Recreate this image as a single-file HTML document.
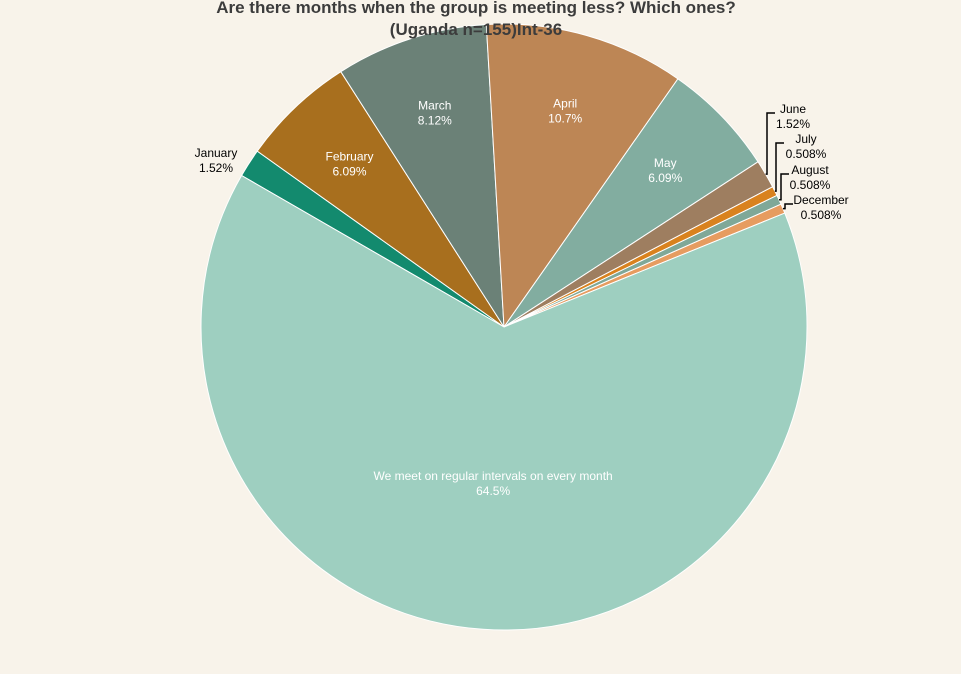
<!DOCTYPE html>
<html><head><meta charset="utf-8">
<style>
html,body{margin:0;padding:0;background:#f8f3ea;}
svg{display:block;font-family:"Liberation Sans","DejaVu Sans",sans-serif;}
</style></head>
<body>
<svg id="chart" width="961" height="674" viewBox="0 0 961 674">
<rect width="961" height="674" fill="#f8f3ea"/>
<g id="slices"></g>
<g id="labels"></g>
<text x="476" y="13" text-anchor="middle" font-size="17" font-weight="bold" fill="#3c3c3c">Are there months when the group is meeting less? Which ones?</text>
<text x="476" y="35" text-anchor="middle" font-size="17" font-weight="bold" fill="#3c3c3c">(Uganda n=155)Int-36</text>
</svg>
<script>
const categories=["January","February","March","April","May","June","July","August","December","We meet on regular intervals on every month"];
const counts=[3,12,16,21,12,3,1,1,1,127];
const pctLabels=["1.52%","6.09%","8.12%","10.7%","6.09%","1.52%","0.508%","0.508%","0.508%","64.5%"];
const colors=["#138a6e","#a86f1e","#6b8177","#bd8655","#82ada0","#9e7e60","#d9821e","#7fa898","#e69c60","#9ecfc0"];
const cx=504,cy=327,R=303,startDeg=-60;
const NS="http://www.w3.org/2000/svg";
const total=counts.reduce((a,b)=>a+b,0);
const gS=document.getElementById('slices'),gL=document.getElementById('labels');
function pt(deg,r){const a=deg*Math.PI/180;return [cx+r*Math.sin(a),cy-r*Math.cos(a)];}
function mk(tag,attrs,parent){const e=document.createElementNS(NS,tag);for(const k in attrs)e.setAttribute(k,attrs[k]);parent.appendChild(e);return e;}
const outside={0:[216,157,null],5:[793,113,767],6:[806,143,776],7:[810,174,781],8:[821,204,785]};
let acc=startDeg;
counts.forEach((v,i)=>{
  const sweep=v/total*360,a0=acc,a1=acc+sweep;acc=a1;
  const p0=pt(a0,R),p1=pt(a1,R),large=sweep>180?1:0;
  const path=mk('path',{d:`M${cx},${cy}L${p0[0]},${p0[1]}A${R},${R} 0 ${large} 1 ${p1[0]},${p1[1]}Z`,fill:colors[i],stroke:"#fff","stroke-width":1},gS);
  
  
  const mid=(a0+a1)/2;
  let tx,ty,fill="#fff",anchor="middle";
  if(outside[i]){
    const o=outside[i];tx=o[0];ty=o[1];fill="#000";
    const e=pt(mid,R);
    if(o[2]!==null){
      const ln=mk('polyline',{points:`${e[0]},${e[1]} ${o[2]},${e[1]} ${o[2]},${ty} ${o[2]+8},${ty}`,fill:"none",stroke:"#000","stroke-width":1.5},gL);
      
      
    }
  } else {
    const r=(i===9)?0.52*R:0.74*R;
    const p=pt(mid,r);tx=p[0];ty=p[1]-4;
  }
  const t=mk('text',{x:tx,y:ty,"text-anchor":anchor,"font-size":12,fill:fill},gL);
  
  
  mk('tspan',{x:tx,dy:0},t).textContent=categories[i];
  mk('tspan',{x:tx,dy:15},t).textContent=pctLabels[i];
});
</script>
</body></html>
